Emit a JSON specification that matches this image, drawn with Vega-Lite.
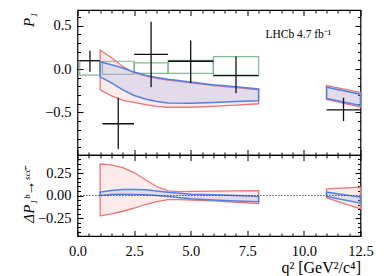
{
  "$schema": "https://vega.github.io/schema/vega-lite/v6.json",
  "padding": {"left": 19.5, "top": 8, "right": 5, "bottom": 5},
  "spacing": 0,
  "bounds": "flush",
  "config": {
    "view": {"stroke": "black", "strokeWidth": 1.2},
    "font": "Liberation Serif",
    "concat": {"spacing": 0},
    "axis": {
      "grid": false, "domain": false, "minExtent": 0, "maxExtent": 300,
      "labelFont": "Liberation Serif", "labelFontSize": 14.5, "labelColor": "black",
      "tickColor": "black", "tickWidth": 1,
      "titleFont": "Liberation Serif", "titleFontWeight": "normal", "titleFontSize": 15, "titleColor": "black"
    }
  },
  "datasets": {
    "points": [
      {"x": 0.55, "xlo": 0.1, "xhi": 0.98, "y": 0.096, "ylo": -0.03, "yhi": 0.21},
      {"x": 1.8, "xlo": 1.1, "xhi": 2.5, "y": -0.63, "ylo": -0.92, "yhi": -0.33},
      {"x": 3.25, "xlo": 2.5, "xhi": 4.0, "y": 0.17, "ylo": -0.21, "yhi": 0.545},
      {"x": 5.0, "xlo": 4.0, "xhi": 6.0, "y": 0.09, "ylo": -0.16, "yhi": 0.33},
      {"x": 7.0, "xlo": 6.0, "xhi": 8.0, "y": -0.075, "ylo": -0.28, "yhi": 0.145},
      {"x": 11.75, "xlo": 11.0, "xhi": 12.5, "y": -0.47, "ylo": -0.6, "yhi": -0.33}
    ],
    "boxes": [
      {"xlo": 0.1, "xhi": 0.98, "ylo": -0.07, "yhi": 0.096},
      {"xlo": 1.1, "xhi": 2.5, "ylo": -0.06, "yhi": 0.09},
      {"xlo": 2.5, "xhi": 4.0, "ylo": -0.05, "yhi": 0.07},
      {"xlo": 4.0, "xhi": 6.0, "ylo": -0.05, "yhi": 0.1},
      {"xlo": 6.0, "xhi": 8.0, "ylo": -0.07, "yhi": 0.142}
    ],
    "bands": [
      {"p": "top", "m": "red", "s": "a", "q": 1.0, "lo": -0.24, "hi": 0.22},
      {"p": "top", "m": "red", "s": "a", "q": 1.5, "lo": -0.31, "hi": 0.13},
      {"p": "top", "m": "red", "s": "a", "q": 2.0, "lo": -0.36, "hi": 0.03},
      {"p": "top", "m": "red", "s": "a", "q": 2.5, "lo": -0.385, "hi": -0.045},
      {"p": "top", "m": "red", "s": "a", "q": 3.0, "lo": -0.41, "hi": -0.08},
      {"p": "top", "m": "red", "s": "a", "q": 3.5, "lo": -0.43, "hi": -0.107},
      {"p": "top", "m": "red", "s": "a", "q": 4.0, "lo": -0.44, "hi": -0.127},
      {"p": "top", "m": "red", "s": "a", "q": 5.0, "lo": -0.44, "hi": -0.16},
      {"p": "top", "m": "red", "s": "a", "q": 6.0, "lo": -0.43, "hi": -0.19},
      {"p": "top", "m": "red", "s": "a", "q": 7.0, "lo": -0.415, "hi": -0.215},
      {"p": "top", "m": "red", "s": "a", "q": 8.0, "lo": -0.4, "hi": -0.24},
      {"p": "top", "m": "red", "s": "b", "q": 11.0, "lo": -0.35, "hi": -0.19},
      {"p": "top", "m": "red", "s": "b", "q": 12.5, "lo": -0.44, "hi": -0.27},
      {"p": "top", "m": "blue", "s": "a", "q": 1.0, "lo": -0.09, "hi": 0.085},
      {"p": "top", "m": "blue", "s": "a", "q": 1.5, "lo": -0.16, "hi": 0.05},
      {"p": "top", "m": "blue", "s": "a", "q": 2.0, "lo": -0.24, "hi": 0.012},
      {"p": "top", "m": "blue", "s": "a", "q": 2.5, "lo": -0.305, "hi": -0.035},
      {"p": "top", "m": "blue", "s": "a", "q": 3.0, "lo": -0.345, "hi": -0.07},
      {"p": "top", "m": "blue", "s": "a", "q": 3.5, "lo": -0.375, "hi": -0.097},
      {"p": "top", "m": "blue", "s": "a", "q": 4.0, "lo": -0.39, "hi": -0.117},
      {"p": "top", "m": "blue", "s": "a", "q": 5.0, "lo": -0.395, "hi": -0.15},
      {"p": "top", "m": "blue", "s": "a", "q": 6.0, "lo": -0.385, "hi": -0.18},
      {"p": "top", "m": "blue", "s": "a", "q": 7.0, "lo": -0.375, "hi": -0.205},
      {"p": "top", "m": "blue", "s": "a", "q": 8.0, "lo": -0.365, "hi": -0.23},
      {"p": "top", "m": "blue", "s": "b", "q": 11.0, "lo": -0.34, "hi": -0.21},
      {"p": "top", "m": "blue", "s": "b", "q": 12.5, "lo": -0.42, "hi": -0.29},
      {"p": "bot", "m": "red", "s": "a", "q": 1.0, "lo": -0.226, "hi": 0.35},
      {"p": "bot", "m": "red", "s": "a", "q": 1.5, "lo": -0.205, "hi": 0.34},
      {"p": "bot", "m": "red", "s": "a", "q": 2.0, "lo": -0.175, "hi": 0.31},
      {"p": "bot", "m": "red", "s": "a", "q": 2.5, "lo": -0.14, "hi": 0.255},
      {"p": "bot", "m": "red", "s": "a", "q": 3.0, "lo": -0.1, "hi": 0.175},
      {"p": "bot", "m": "red", "s": "a", "q": 3.5, "lo": -0.067, "hi": 0.1},
      {"p": "bot", "m": "red", "s": "a", "q": 4.0, "lo": -0.045, "hi": 0.052},
      {"p": "bot", "m": "red", "s": "a", "q": 4.5, "lo": -0.045, "hi": 0.042},
      {"p": "bot", "m": "red", "s": "a", "q": 5.0, "lo": -0.05, "hi": 0.045},
      {"p": "bot", "m": "red", "s": "a", "q": 6.0, "lo": -0.06, "hi": 0.048},
      {"p": "bot", "m": "red", "s": "a", "q": 7.0, "lo": -0.075, "hi": 0.052},
      {"p": "bot", "m": "red", "s": "a", "q": 8.0, "lo": -0.09, "hi": 0.055},
      {"p": "bot", "m": "red", "s": "b", "q": 11.0, "lo": -0.026, "hi": 0.074},
      {"p": "bot", "m": "red", "s": "b", "q": 12.5, "lo": -0.148, "hi": 0.093},
      {"p": "bot", "m": "blue", "s": "a", "q": 1.0, "lo": 0.0, "hi": 0.038},
      {"p": "bot", "m": "blue", "s": "a", "q": 1.5, "lo": 0.01, "hi": 0.055},
      {"p": "bot", "m": "blue", "s": "a", "q": 2.0, "lo": 0.015, "hi": 0.068},
      {"p": "bot", "m": "blue", "s": "a", "q": 2.5, "lo": 0.012, "hi": 0.068},
      {"p": "bot", "m": "blue", "s": "a", "q": 3.0, "lo": 0.008, "hi": 0.063},
      {"p": "bot", "m": "blue", "s": "a", "q": 3.5, "lo": 0.0, "hi": 0.05},
      {"p": "bot", "m": "blue", "s": "a", "q": 4.0, "lo": -0.012, "hi": 0.035},
      {"p": "bot", "m": "blue", "s": "a", "q": 5.0, "lo": -0.035, "hi": 0.015},
      {"p": "bot", "m": "blue", "s": "a", "q": 6.0, "lo": -0.05, "hi": 0.008},
      {"p": "bot", "m": "blue", "s": "a", "q": 7.0, "lo": -0.06, "hi": 0.0},
      {"p": "bot", "m": "blue", "s": "a", "q": 8.0, "lo": -0.07, "hi": -0.01},
      {"p": "bot", "m": "blue", "s": "b", "q": 11.0, "lo": -0.011, "hi": 0.037},
      {"p": "bot", "m": "blue", "s": "b", "q": 12.5, "lo": -0.085, "hi": -0.018}
    ],
    "label": [{"x": 8.3, "y": 0.39, "t": "LHCb 4.7 fb⁻¹"}],
    "zero": [{"y": 0}]
  },
  "vconcat": [
    {
      "width": 283, "height": 145,
      "resolve": {"axis": {"x": "independent", "y": "independent"}},
      "layer": [
        {
          "data": {"name": "boxes"},
          "mark": {"type": "rect", "fill": null, "stroke": "#74b088", "strokeWidth": 1.2, "strokeOpacity": 0.9},
          "encoding": {
            "x": {"field": "xlo", "type": "quantitative", "scale": {"domain": [0, 12.5], "nice": false, "zero": false}, "axis": null},
            "x2": {"field": "xhi"},
            "y": {"field": "ylo", "type": "quantitative", "scale": {"domain": [-0.99, 0.68], "nice": false, "zero": false}, "axis": null},
            "y2": {"field": "yhi"}
          }
        },
        {
          "data": {"name": "bands"},
          "transform": [{"filter": "datum.p === 'top' && datum.m === 'red'"}],
          "mark": {"type": "area", "fill": "#f07070", "fillOpacity": 0.15, "stroke": "#ef7474", "strokeWidth": 1.3},
          "encoding": {
            "x": {"field": "q", "type": "quantitative", "scale": {"domain": [0, 12.5], "nice": false, "zero": false}, "axis": null},
            "y": {"field": "lo", "type": "quantitative", "scale": {"domain": [-0.99, 0.68], "nice": false, "zero": false}, "axis": null},
            "y2": {"field": "hi"},
            "detail": {"field": "s"}
          }
        },
        {
          "data": {"name": "bands"},
          "transform": [{"filter": "datum.p === 'top' && datum.m === 'blue'"}],
          "mark": {"type": "area", "fill": "#6f9cf0", "fillOpacity": 0.18, "stroke": "#4f82e6", "strokeWidth": 1.5},
          "encoding": {
            "x": {"field": "q", "type": "quantitative", "scale": {"domain": [0, 12.5], "nice": false, "zero": false}, "axis": null},
            "y": {"field": "lo", "type": "quantitative", "scale": {"domain": [-0.99, 0.68], "nice": false, "zero": false}, "axis": null},
            "y2": {"field": "hi"},
            "detail": {"field": "s"}
          }
        },
        {
          "data": {"name": "points"},
          "mark": {"type": "rule", "color": "#111111", "strokeWidth": 1.3},
          "encoding": {
            "x": {"field": "xlo", "type": "quantitative", "scale": {"domain": [0, 12.5], "nice": false, "zero": false},
              "axis": {"orient": "bottom", "values": [0,0.5,1,1.5,2,2.5,3,3.5,4,4.5,5,5.5,6,6.5,7,7.5,8,8.5,9,9.5,10,10.5,11,11.5,12,12.5], "labels": false, "title": null,
                "tickSize": {"condition": {"test": "datum.value % 2.5 === 0", "value": -5.5}, "value": -3}}},
            "x2": {"field": "xhi"},
            "y": {"field": "y", "type": "quantitative", "scale": {"domain": [-0.99, 0.68], "nice": false, "zero": false},
              "axis": {"orient": "left", "values": [-0.9,-0.8,-0.7,-0.6,-0.5,-0.4,-0.3,-0.2,-0.1,0,0.1,0.2,0.3,0.4,0.5,0.6],
                "labelExpr": "abs(datum.value) % 0.5 < 1e-9 ? format(datum.value, '.1f') : ''", "labelPadding": 12,
                "tickSize": {"condition": {"test": "abs(datum.value) % 0.5 < 1e-9", "value": -5.5}, "value": -3},
                "title": "P₁", "titleFontStyle": "italic", "titleAnchor": "end", "titleBaseline": "alphabetic", "titleX": -44.5, "titleY": 2}}
          }
        },
        {
          "data": {"name": "points"},
          "mark": {"type": "rule", "color": "#111111", "strokeWidth": 1.3},
          "encoding": {
            "x": {"field": "x", "type": "quantitative", "scale": {"domain": [0, 12.5], "nice": false, "zero": false},
              "axis": {"orient": "top", "values": [0,0.5,1,1.5,2,2.5,3,3.5,4,4.5,5,5.5,6,6.5,7,7.5,8,8.5,9,9.5,10,10.5,11,11.5,12,12.5], "labels": false, "title": null,
                "tickSize": {"condition": {"test": "datum.value % 2.5 === 0", "value": -5.5}, "value": -3}}},
            "y": {"field": "ylo", "type": "quantitative", "scale": {"domain": [-0.99, 0.68], "nice": false, "zero": false},
              "axis": {"orient": "right", "values": [-0.9,-0.8,-0.7,-0.6,-0.5,-0.4,-0.3,-0.2,-0.1,0,0.1,0.2,0.3,0.4,0.5,0.6], "labels": false, "title": null,
                "tickSize": {"condition": {"test": "abs(datum.value) % 0.5 < 1e-9", "value": -5.5}, "value": -3}}},
            "y2": {"field": "yhi"}
          }
        },
        {
          "data": {"name": "label"},
          "mark": {"type": "text", "align": "left", "baseline": "middle", "fontSize": 11.5, "font": "Liberation Serif", "color": "black"},
          "encoding": {
            "x": {"field": "x", "type": "quantitative", "scale": {"domain": [0, 12.5], "nice": false, "zero": false}, "axis": null},
            "y": {"field": "y", "type": "quantitative", "scale": {"domain": [-0.99, 0.68], "nice": false, "zero": false}, "axis": null},
            "text": {"field": "t"}
          }
        }
      ]
    },
    {
      "width": 283, "height": 81,
      "resolve": {"axis": {"x": "independent", "y": "independent"}},
      "layer": [
        {
          "data": {"name": "bands"},
          "transform": [{"filter": "datum.p === 'bot' && datum.m === 'red'"}],
          "mark": {"type": "area", "fill": "#f07070", "fillOpacity": 0.15, "stroke": "#ef7474", "strokeWidth": 1.3},
          "encoding": {
            "x": {"field": "q", "type": "quantitative", "scale": {"domain": [0, 12.5], "nice": false, "zero": false},
              "axis": {"orient": "bottom", "values": [0,0.5,1,1.5,2,2.5,3,3.5,4,4.5,5,5.5,6,6.5,7,7.5,8,8.5,9,9.5,10,10.5,11,11.5,12,12.5],
                "labelExpr": "datum.value % 2.5 === 0 ? format(datum.value, '.1f') : ''", "labelPadding": 13.5, "labelFlush": false,
                "tickSize": {"condition": {"test": "datum.value % 2.5 === 0", "value": -5.5}, "value": -3},
                "title": "q² [GeV²/c⁴]", "titleFontSize": 16, "titleAnchor": "end", "titlePadding": 2}},
            "y": {"field": "lo", "type": "quantitative", "scale": {"domain": [-0.45, 0.45], "nice": false, "zero": false},
              "axis": {"orient": "left", "values": [-0.45,-0.4,-0.35,-0.3,-0.25,-0.2,-0.15,-0.1,-0.05,0,0.05,0.1,0.15,0.2,0.25,0.3,0.35,0.4,0.45],
                "labelExpr": "abs(datum.value) % 0.25 < 1e-9 ? format(datum.value, '.2f') : ''", "labelPadding": 12,
                "tickSize": {"condition": {"test": "abs(datum.value) % 0.25 < 1e-9", "value": -5.5}, "value": -3},
                "title": "ΔP₁ᵇ→ˢᶜᶜ̄", "titleFontStyle": "italic", "titleBaseline": "alphabetic", "titleX": -44.5}},
            "y2": {"field": "hi"},
            "detail": {"field": "s"}
          }
        },
        {
          "data": {"name": "bands"},
          "transform": [{"filter": "datum.p === 'bot' && datum.m === 'blue'"}],
          "mark": {"type": "area", "fill": "#6f9cf0", "fillOpacity": 0.18, "stroke": "#4f82e6", "strokeWidth": 1.5},
          "encoding": {
            "x": {"field": "q", "type": "quantitative", "scale": {"domain": [0, 12.5], "nice": false, "zero": false},
              "axis": {"orient": "top", "values": [0,0.5,1,1.5,2,2.5,3,3.5,4,4.5,5,5.5,6,6.5,7,7.5,8,8.5,9,9.5,10,10.5,11,11.5,12,12.5], "labels": false, "title": null,
                "tickSize": {"condition": {"test": "datum.value % 2.5 === 0", "value": -5.5}, "value": -3}}},
            "y": {"field": "lo", "type": "quantitative", "scale": {"domain": [-0.45, 0.45], "nice": false, "zero": false},
              "axis": {"orient": "right", "values": [-0.45,-0.4,-0.35,-0.3,-0.25,-0.2,-0.15,-0.1,-0.05,0,0.05,0.1,0.15,0.2,0.25,0.3,0.35,0.4,0.45], "labels": false, "title": null,
                "tickSize": {"condition": {"test": "abs(datum.value) % 0.25 < 1e-9", "value": -5.5}, "value": -3}}},
            "y2": {"field": "hi"},
            "detail": {"field": "s"}
          }
        },
        {
          "data": {"name": "zero"},
          "mark": {"type": "rule", "color": "#333333", "strokeWidth": 1.1, "strokeDash": [1.2, 1.8]},
          "encoding": {
            "y": {"field": "y", "type": "quantitative", "scale": {"domain": [-0.45, 0.45], "nice": false, "zero": false}, "axis": null}
          }
        }
      ]
    }
  ]
}
